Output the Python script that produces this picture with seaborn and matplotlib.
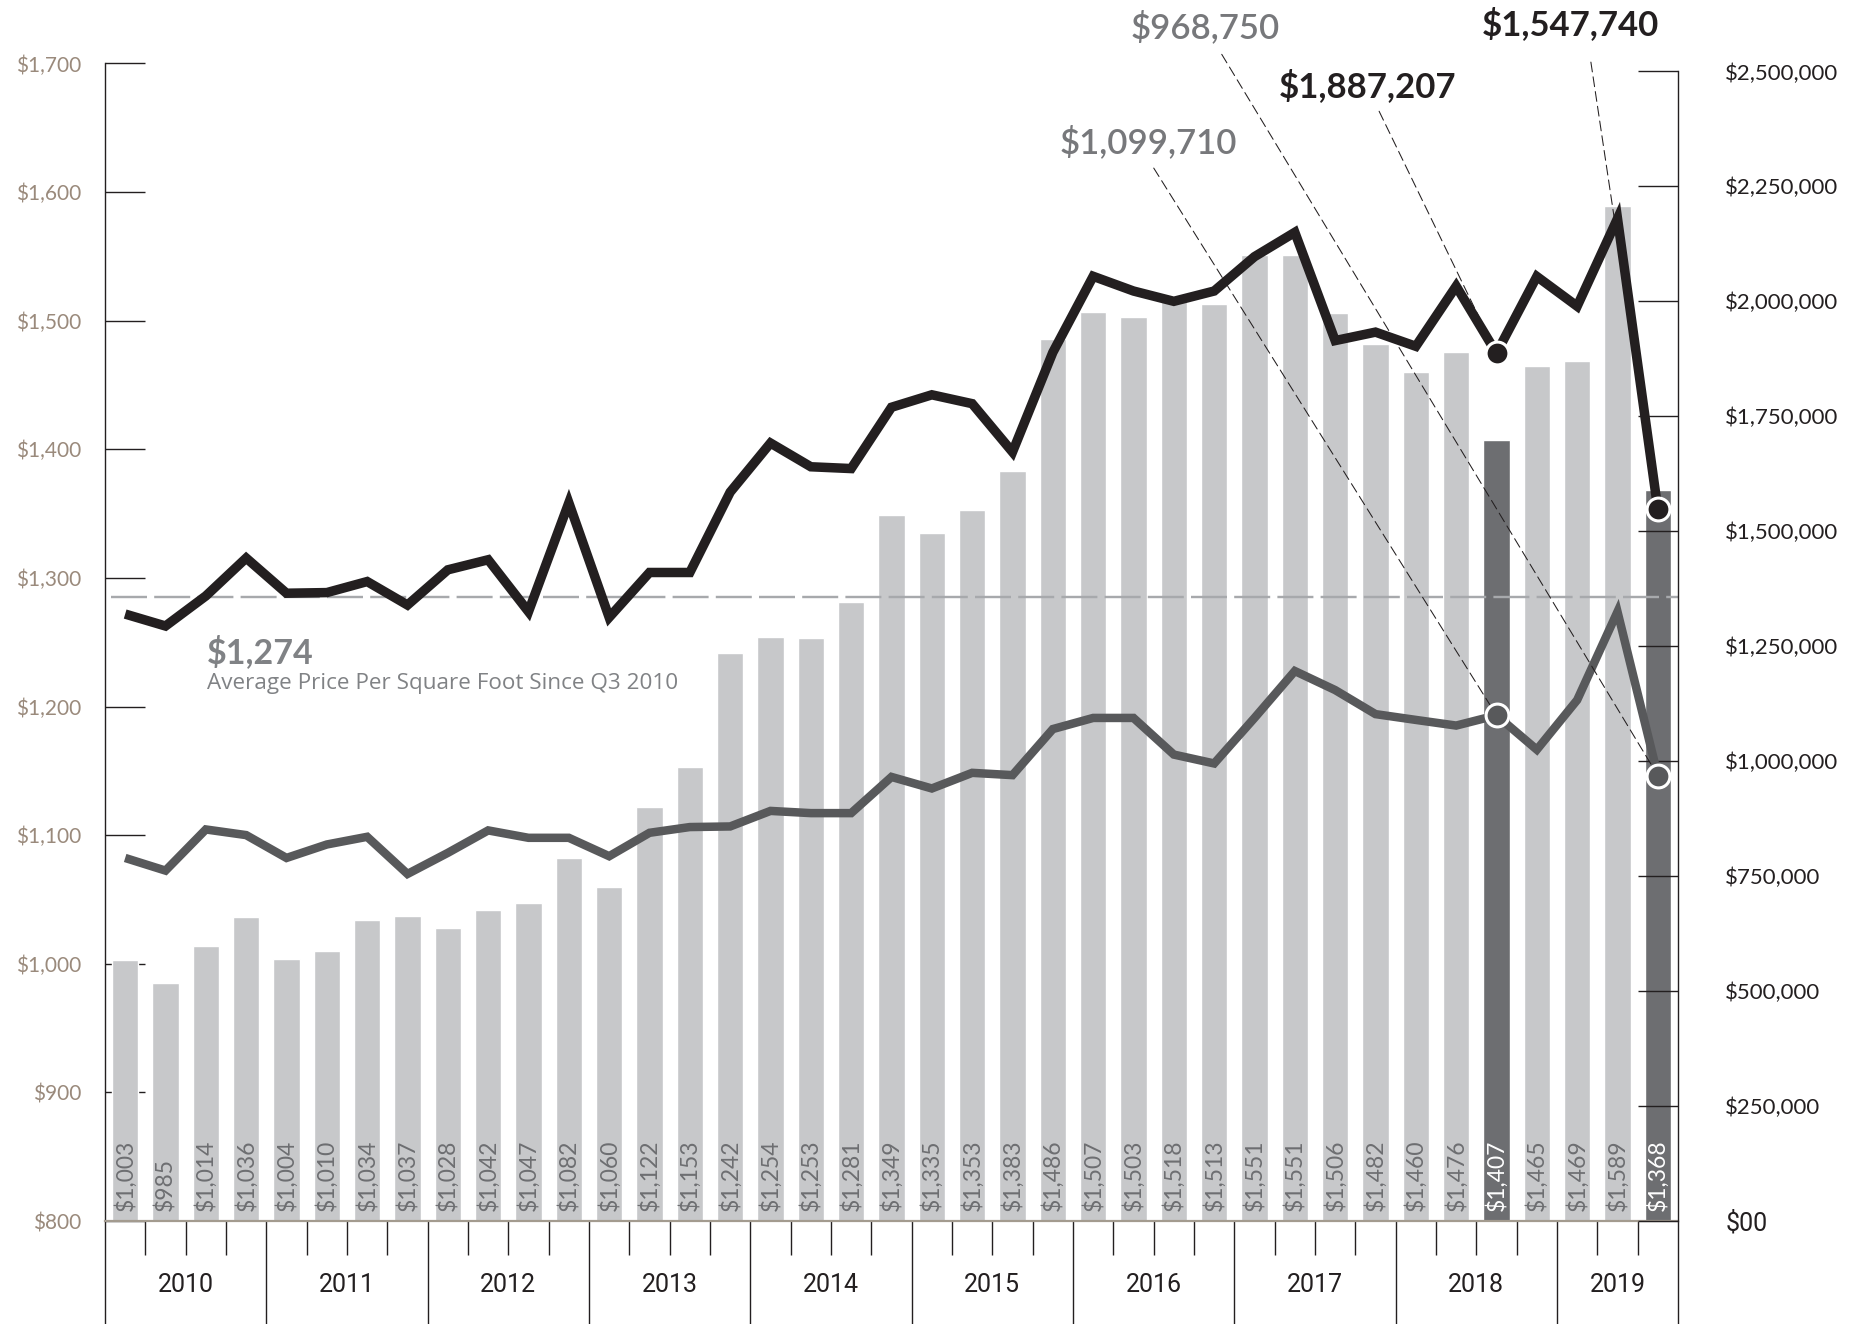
import numpy as np
import pandas as pd
import matplotlib
matplotlib.use("Agg")
import matplotlib.pyplot as plt
import matplotlib.transforms as mtransforms
from matplotlib.ticker import FixedLocator, NullFormatter
import seaborn as sns

# ---------------- data ----------------
quarters = [
    "2010 Q1", "2010 Q2", "2010 Q3", "2010 Q4",
    "2011 Q1", "2011 Q2", "2011 Q3", "2011 Q4",
    "2012 Q1", "2012 Q2", "2012 Q3", "2012 Q4",
    "2013 Q1", "2013 Q2", "2013 Q3", "2013 Q4",
    "2014 Q1", "2014 Q2", "2014 Q3", "2014 Q4",
    "2015 Q1", "2015 Q2", "2015 Q3", "2015 Q4",
    "2016 Q1", "2016 Q2", "2016 Q3", "2016 Q4",
    "2017 Q1", "2017 Q2", "2017 Q3", "2017 Q4",
    "2018 Q1", "2018 Q2", "2018 Q3", "2018 Q4",
    "2019 Q1", "2019 Q2", "2019 Q3",
]
years = ["2010", "2011", "2012", "2013", "2014", "2015", "2016", "2017", "2018", "2019"]

price_per_sqft = [1003, 985, 1014, 1036, 1004, 1010, 1034, 1037, 1028, 1042,
                  1047, 1082, 1060, 1122, 1153, 1242, 1254, 1253, 1281, 1349,
                  1335, 1353, 1383, 1486, 1507, 1503, 1518, 1513, 1551, 1551,
                  1506, 1482, 1460, 1476, 1407, 1465, 1469, 1589, 1368]

avg_sale_price = [1319900, 1293900, 1359300, 1441700, 1365200, 1366600, 1390600,
                  1339600, 1416100, 1438000, 1325100, 1561800, 1312700, 1410300,
                  1410300, 1585000, 1691800, 1640200, 1636300, 1769600, 1796700,
                  1777400, 1672300, 1889000, 2054400, 2022400, 2000000, 2022400,
                  2097100, 2150000, 1914600, 1933000, 1902200, 2032900, 1887207,
                  2054000, 1989300, 2180000, 1547740]

median_sale_price = [789500, 762000, 851500, 839200, 789500, 818800, 835500,
                     754700, 800600, 849400, 833300, 833300, 793300, 844200,
                     856700, 858000, 891800, 887000, 887000, 965700, 940600,
                     974600, 969600, 1069800, 1094000, 1094000, 1014300, 995000,
                     1094000, 1196000, 1154600, 1102300, 1089700, 1077400, 1099710,
                     1025000, 1133000, 1325000, 968750]

highlight_quarters = ["2018 Q3", "2019 Q3"]
avg_ppsf_label = "$1,274"
avg_ppsf_caption = "Average Price Per Square Foot Since Q3 2010"
avg_ppsf_line_level = 1285   # level of the dashed reference line as drawn

left_ticks = [800, 900, 1000, 1100, 1200, 1300, 1400, 1500, 1600, 1700]
left_tick_labels = ["$800", "$900", "$1,000", "$1,100", "$1,200", "$1,300",
                    "$1,400", "$1,500", "$1,600", "$1,700"]
right_ticks = [0, 250000, 500000, 750000, 1000000, 1250000, 1500000,
               1750000, 2000000, 2250000, 2500000]
right_tick_labels = ["$00", "$250,000", "$500,000", "$750,000", "$1,000,000",
                     "$1,250,000", "$1,500,000", "$1,750,000", "$2,000,000",
                     "$2,250,000", "$2,500,000"]

# ---------------- style ----------------
BLACK = "#231f20"
LINE_GRAY = "#58595b"
TEXT_GRAY = "#808285"
CALLOUT_GRAY = "#77787b"
BAR_LIGHT = "#c7c8ca"
BAR_DARK = "#6d6e71"
DASH_GRAY = "#a7a9ac"
TAN = "#9a8a7c"
AXIS_TAN = "#a39b8f"

sns.set_style("white")
plt.rcParams["font.family"] = ["Lato", "DejaVu Sans"]
NARROW = ["Liberation Sans Narrow", "Roboto", "DejaVu Sans"]
WIDE = ["Open Sans", "DejaVu Sans"]

W, H = 1866, 1324
PX = 72 / 100  # points per pixel at dpi 100
fig = plt.figure(figsize=(W / 100, H / 100), dpi=100)
L, R, T, B = 105, 1678, 63.5, 1221
RIGHT_TOP = 71.4
ax = fig.add_axes([L / W, 1 - B / H, (R - L) / W, (B - T) / H])

df = pd.DataFrame({
    "quarter": quarters,
    "ppsf": price_per_sqft,
    "kind": ["highlight" if q in highlight_quarters else "base" for q in quarters],
})
sns.barplot(data=df, x="quarter", y="ppsf", hue="kind",
            palette={"base": BAR_LIGHT, "highlight": BAR_DARK},
            dodge=False, width=0.66, saturation=1, legend=False, ax=ax, zorder=1)
ax.set_xlim(-0.5, len(quarters) - 0.5)
ax.set_ylim(left_ticks[0], left_ticks[-1])

# bar value labels
for i, (q, v) in enumerate(zip(quarters, price_per_sqft)):
    ax.text(i, 808, f"${v:,}", rotation=90, ha="center", va="bottom",
            fontsize=16.5, color="white" if q in highlight_quarters else BAR_DARK,
            zorder=3)

# dashed average line
ax.axhline(avg_ppsf_line_level, xmin=(111 - L) / (R - L), xmax=1,
           color=DASH_GRAY, lw=2.4 * PX, ls=(0, (15, 3.0)), zorder=2)
fig.text(207 / W, 1 - 652 / H, avg_ppsf_label, fontsize=24.5, fontweight="bold",
         color=TEXT_GRAY, ha="left", va="center")
fig.text(207 / W, 1 - 683 / H, avg_ppsf_caption, fontsize=16.2, family=WIDE,
         color=TEXT_GRAY, ha="left", va="center")

# left axis
ax.set_yticks(left_ticks)
ax.set_yticklabels(left_tick_labels)
ax.tick_params(axis="y", direction="in", length=40 * PX, width=1.0, color=BLACK,
               pad=17, labelsize=15, labelcolor=TAN)

# x axis: quarter ticks and year separators
year_of = [q[:4] for q in quarters]
major = [-0.5] + [i + 0.5 for i in range(len(quarters) - 1) if year_of[i] != year_of[i + 1]] \
        + [len(quarters) - 0.5]
minor = [i + 0.5 for i in range(len(quarters) - 1) if (i + 0.5) not in major]
ax.xaxis.set_major_locator(FixedLocator(major))
ax.xaxis.set_minor_locator(FixedLocator(minor))
ax.xaxis.set_major_formatter(NullFormatter())
ax.xaxis.set_minor_formatter(NullFormatter())
ax.tick_params(axis="x", which="major", direction="out", length=(H - B) * PX,
               width=1.0, color=BLACK, bottom=True)
ax.tick_params(axis="x", which="minor", direction="out", length=34 * PX,
               width=1.0, color=BLACK, bottom=True)
ax.set_xlabel("")
ax.set_ylabel("")

trans = mtransforms.blended_transform_factory(ax.transData, fig.transFigure)
for yr in years:
    idx = [i for i, y in enumerate(year_of) if y == yr]
    ax.text(np.mean(idx), 1 - 1285 / H, yr, transform=trans, ha="center",
            va="center", fontsize=18, family=NARROW, color=BLACK)

for s in ["top", "right"]:
    ax.spines[s].set_visible(False)
ax.spines["left"].set_color(BLACK)
ax.spines["left"].set_linewidth(1.0)
ax.spines["bottom"].set_color(AXIS_TAN)
ax.spines["bottom"].set_linewidth(2.2 * PX)

# right axis: sale prices
ax2 = ax.twinx()
x_idx = np.arange(len(quarters))
sns.lineplot(x=x_idx, y=median_sale_price, ax=ax2, color=LINE_GRAY,
             linewidth=8.5 * PX, zorder=3)
sns.lineplot(x=x_idx, y=avg_sale_price, ax=ax2, color=BLACK,
             linewidth=9.5 * PX, zorder=4)
for ln in ax2.lines:
    ln.set_solid_joinstyle("miter")
    ln.set_solid_capstyle("butt")

hi_idx = [quarters.index(q) for q in highlight_quarters]
sns.scatterplot(x=hi_idx, y=[median_sale_price[i] for i in hi_idx], ax=ax2,
                color=LINE_GRAY, s=270, edgecolor="white", linewidth=2.2, zorder=6)
sns.scatterplot(x=hi_idx, y=[avg_sale_price[i] for i in hi_idx], ax=ax2,
                color=BLACK, s=270, edgecolor="white", linewidth=2.2, zorder=6)

ax2.set_ylim(0, right_ticks[-1] * (B - T) / (B - RIGHT_TOP))
ax2.set_xlim(-0.5, len(quarters) - 0.5)
ax2.set_yticks(right_ticks)
ax2.set_yticklabels(right_tick_labels)
ax2.tick_params(axis="y", direction="in", length=40 * PX, width=1.0, color=BLACK,
                pad=34, labelsize=16, labelcolor=BLACK)
ax2.get_yticklabels()[0].set_family(NARROW)
ax2.get_yticklabels()[0].set_fontsize(18)
ax2.set_ylabel("")
for s in ["top", "left", "bottom"]:
    ax2.spines[s].set_visible(False)
ax2.spines["right"].set_color(BLACK)
ax2.spines["right"].set_linewidth(1.0)
ax2.spines["right"].set_bounds(0, right_ticks[-1])

# callouts with dashed leader lines
callouts = [
    (avg_sale_price, "2018 Q3", (1368, 86), BLACK, "bold", 0.54, 4),
    (avg_sale_price, "2019 Q3", (1570, 24), BLACK, "bold", 0.60, 13),
    (median_sale_price, "2018 Q3", (1148, 142), CALLOUT_GRAY, "semibold", 0.50, 5),
    (median_sale_price, "2019 Q3", (1205, 27), CALLOUT_GRAY, "semibold", 0.57, 6),
]
for series, q, (cx, cy), col, wt, rx, shrink in callouts:
    i = quarters.index(q)
    v = series[i]
    ax2.annotate(f"${v:,}", xy=(i, v), xycoords="data",
                 xytext=(cx, H - cy), textcoords="figure pixels",
                 ha="center", va="center", fontsize=25, fontweight=wt, color=col,
                 zorder=5,
                 arrowprops=dict(arrowstyle="-", color=BLACK, lw=0.75,
                                 linestyle=(0, (9.5, 4.8)), shrinkA=shrink,
                                 shrinkB=0, relpos=(rx, 0)))

fig.savefig("out.png", dpi=100)
